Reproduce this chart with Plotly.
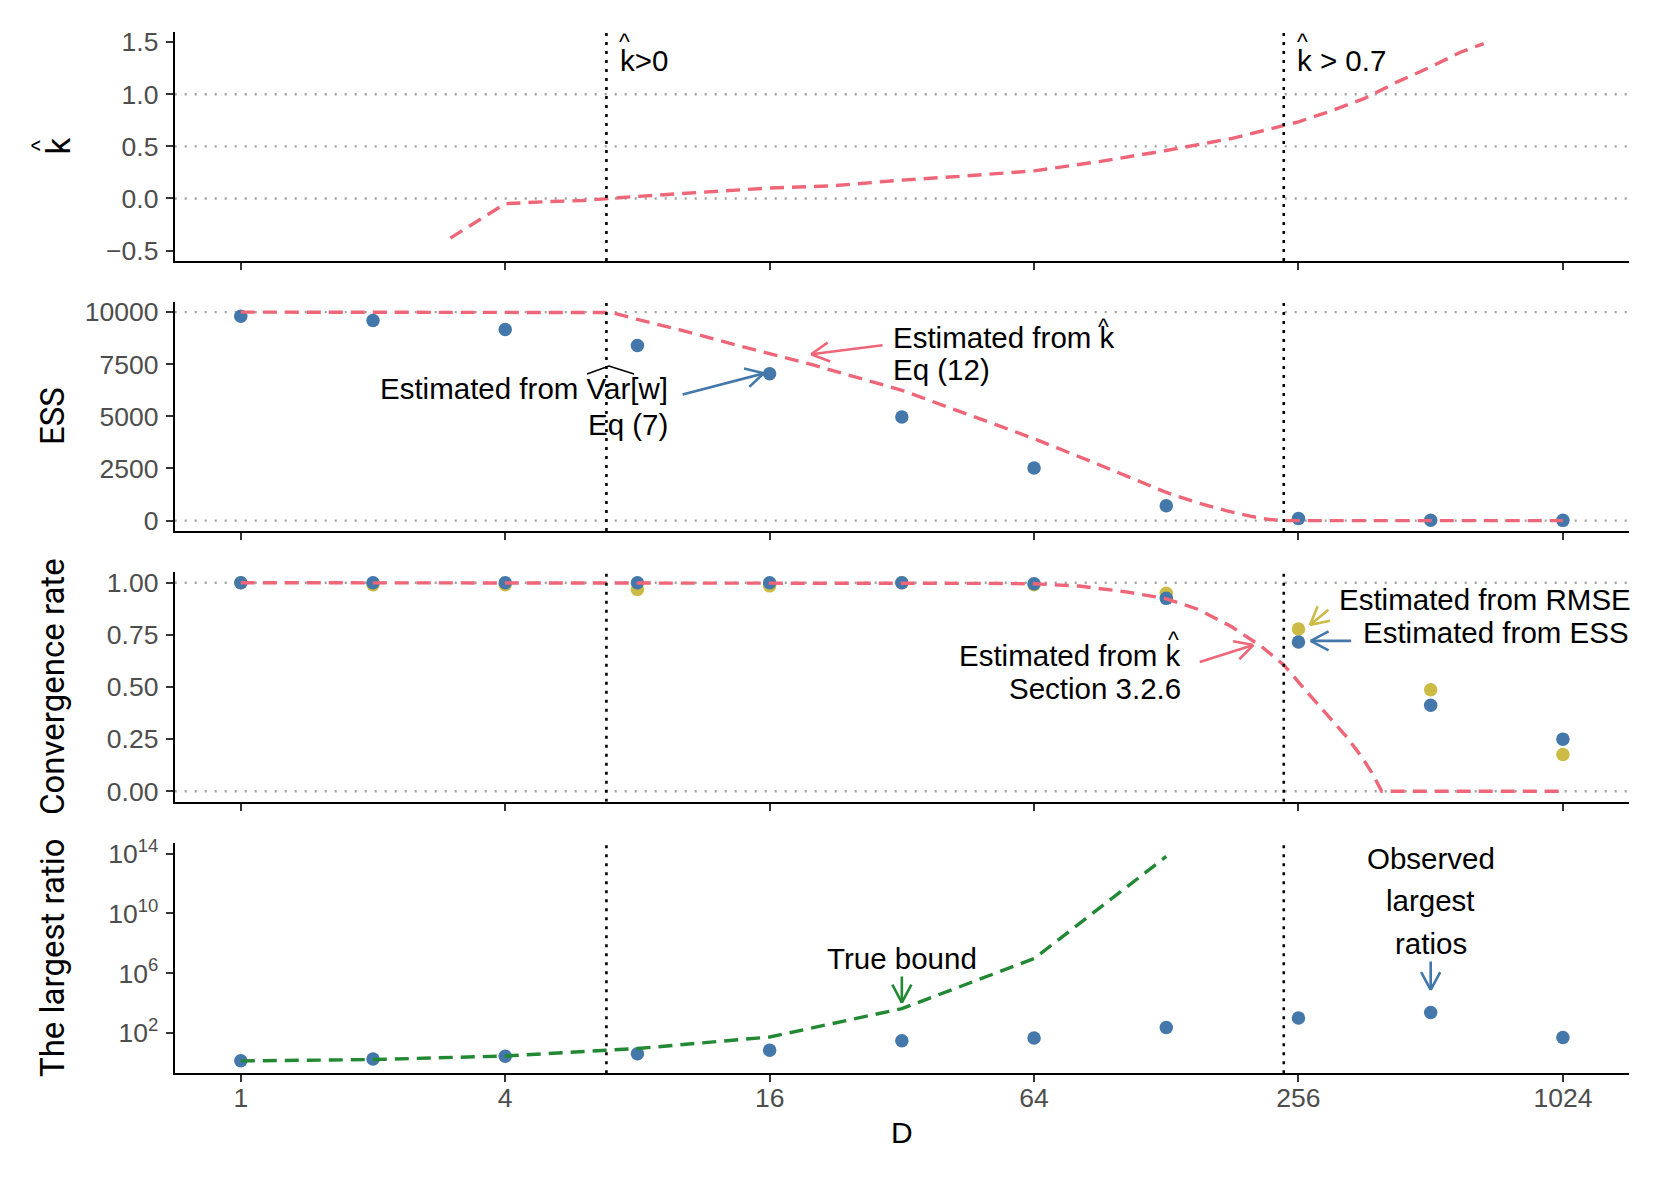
import numpy as np
import plotly.graph_objects as go

# ---------------- data ----------------
D = [1, 2, 4, 8, 16, 32, 64, 128, 256, 512, 1024]

khat_D = [3, 4, 5, 6, 8, 11, 16, 22, 32, 45, 64, 90, 128, 181, 256, 300, 362, 430, 512, 600, 676]
khat = [-0.38, -0.05, -0.03, -0.02, 0.02, 0.057, 0.10, 0.12, 0.176, 0.217, 0.265, 0.354,
        0.46, 0.577, 0.735, 0.832, 0.96, 1.119, 1.262, 1.405, 1.486]

ess_obs = [9800, 9600, 9170, 8400, 7040, 4965, 2520, 710, 95, 20, 10]
ess_khat_D = [1, 2, 4, 6, 7, 8, 10, 13, 16, 20, 32, 45, 64, 90, 128, 150, 175, 200, 220, 237, 256, 512, 1024]
ess_khat = [10000, 10000, 10000, 10000, 9980, 9650, 9150, 8500, 7990, 7480, 6250, 5100, 3930,
            2680, 1350, 870, 480, 200, 50, 0, 0, 0, 0]

conv_ess = [1.0, 1.0, 1.0, 1.0, 1.0, 1.0, 0.995, 0.925, 0.716, 0.412, 0.25]
conv_rmse = [1.0, 0.99, 0.99, 0.968, 0.985, 1.0, 0.99, 0.949, 0.778, 0.487, 0.176]
conv_khat_D = [1, 2, 4, 8, 16, 32, 48, 64, 81, 103, 127, 151, 180, 211, 237, 265, 304, 330, 356, 376, 396, 512, 1024]
conv_khat = [1.0, 1.0, 1.0, 1.0, 1.0, 1.0, 0.997, 0.995, 0.984, 0.957, 0.925, 0.873, 0.79,
             0.694, 0.606, 0.487, 0.343, 0.26, 0.167, 0.09, 0.0, 0.0, 0.0]

bound_D = [1, 2, 4, 8, 16, 32, 64, 128]
bound = [1.35, 1.66, 2.88, 9.1, 53.7, 4270, 9.55e6, 6.6e13]
ratio_obs = [1.4, 1.8, 2.8, 4.0, 7.1, 30, 46, 234, 1000, 2340, 50]

khat_threshold_D = [6.8, 237]   # khat > 0 and khat > 0.7

x_ticks = [1, 4, 16, 64, 256, 1024]
khat_ticks = [-0.5, 0.0, 0.5, 1.0, 1.5]
khat_ticktext = ["\u22120.5", "0.0", "0.5", "1.0", "1.5"]
ess_ticks = [0, 2500, 5000, 7500, 10000]
conv_ticks = [0.0, 0.25, 0.5, 0.75, 1.0]
conv_ticktext = ["0.00", "0.25", "0.50", "0.75", "1.00"]
ratio_ticks = [1e2, 1e6, 1e10, 1e14]
ratio_ticktext = ["10<sup>2</sup>", "10<sup>6</sup>", "10<sup>10</sup>", "10<sup>14</sup>"]

khat_hlines = [0.0, 0.5, 1.0]
ess_hlines = [0, 10000]
conv_hlines = [0.0, 1.0]

# ---------------- style / geometry ----------------
BLUE, YELLOW, RED, GREEN = "#4477AA", "#CCBB44", "#EE6677", "#228833"
FONT = "Liberation Sans"
TITLE_FONT = "Roboto"
W, H = 1661, 1183          # page size
OFF = 8                    # default body margin of the html page
WF, HF = W - 2 * OFF, H - 2 * OFF
XL, XR = 174.7, 1629.0     # page pixel positions of the panels
PANELS = [(31.7, 261.0), (301.7, 531.0), (572.3, 801.7), (843.3, 1073.3)]
L2RANGE = [-0.5, 10.5]
XRANGE = [np.log10(2 ** L2RANGE[0]), np.log10(2 ** L2RANGE[1])]
YRANGES = [[-0.6, 1.6], [-500, 10500], [-0.05, 1.05], [-0.7, 14.7]]
DASH = "14px,8px"
LW = 3.4
ANN = 29.5

def ax(i):
    return ("x" if i == 1 else f"x{i}"), ("y" if i == 1 else f"y{i}")

def px_x(d):
    return XL + (np.log2(d) - L2RANGE[0]) / (L2RANGE[1] - L2RANGE[0]) * (XR - XL)

def px_y(i, v):
    lo, hi = YRANGES[i - 1]
    top, bot = PANELS[i - 1]
    vv = np.log10(v) if i == 4 else v
    return top + (hi - vv) / (hi - lo) * (bot - top)

fig = go.Figure()

def add_line(i, x, y, color, dash, width=LW):
    xr, yr = ax(i)
    fig.add_trace(go.Scatter(x=x, y=y, mode="lines", xaxis=xr, yaxis=yr,
                             line=dict(color=color, width=width, dash=dash), hoverinfo="skip"))

def add_pts(i, x, y, color):
    xr, yr = ax(i)
    fig.add_trace(go.Scatter(x=x, y=y, mode="markers", xaxis=xr, yaxis=yr,
                             marker=dict(color=color, size=13.5, line=dict(width=0)), hoverinfo="skip"))

# horizontal reference lines (grey dotted)
for i, vals in [(1, khat_hlines), (2, ess_hlines), (3, conv_hlines)]:
    xr, yr = ax(i)
    for v in vals:
        fig.add_shape(type="line", xref=f"{xr} domain", yref=yr, x0=0, x1=1, y0=v, y1=v,
                      line=dict(color="#A0A0A0", width=2.4, dash="2px,8px"), layer="below")

add_line(1, khat_D, khat, RED, DASH)
add_pts(2, D, ess_obs, BLUE)
add_line(2, ess_khat_D, ess_khat, RED, DASH)
add_pts(3, D, conv_rmse, YELLOW)
add_pts(3, D, conv_ess, BLUE)
add_line(3, conv_khat_D, conv_khat, RED, DASH)
add_pts(4, D, ratio_obs, BLUE)
add_line(4, bound_D, bound, GREEN, DASH)

for i in range(1, 5):
    lo, hi = YRANGES[i - 1]
    if i == 4:
        lo, hi = 10 ** lo, 10 ** hi
    for dv in khat_threshold_D:
        add_line(i, [dv, dv], [lo, hi], "black", "3px,6px", width=2.6)

# ---------------- axes ----------------
layout = dict(template="none", width=WF, height=HF,
              margin=dict(l=0, r=0, t=0, b=0, pad=0, autoexpand=False),
              paper_bgcolor="white", plot_bgcolor="white", showlegend=False)
tick_font = dict(family=FONT, size=26.5, color="#4D4D4D")
ycfg = [
    dict(tickvals=khat_ticks, ticktext=khat_ticktext),
    dict(tickvals=ess_ticks, ticktext=[str(v) for v in ess_ticks]),
    dict(tickvals=conv_ticks, ticktext=conv_ticktext),
    dict(tickvals=ratio_ticks, ticktext=ratio_ticktext, type="log"),
]
for i in range(1, 5):
    top, bot = PANELS[i - 1]
    xr, yr = ax(i)
    xname = "xaxis" if i == 1 else f"xaxis{i}"
    yname = "yaxis" if i == 1 else f"yaxis{i}"
    layout[xname] = dict(domain=[(XL - OFF) / WF, (XR - OFF) / WF], type="log", range=XRANGE, anchor=yr,
                         tickvals=x_ticks, ticktext=[str(v) for v in x_ticks], automargin=False,
                         showticklabels=(i == 4), ticks="outside", ticklen=7, tickwidth=1.8,
                         tickcolor="#333333", showline=True, linecolor="black", linewidth=2,
                         showgrid=False, zeroline=False, tickfont=tick_font, ticklabelstandoff=-7)
    yc = dict(domain=[1 - (bot - OFF) / HF, 1 - (top - OFF) / HF], range=YRANGES[i - 1], anchor=xr,
              ticks="outside", ticklen=7, tickwidth=1.8, tickcolor="#333333", automargin=False,
              showline=True, linecolor="black", linewidth=2, showgrid=False, zeroline=False,
              tickfont=tick_font, ticklabelstandoff=2)
    yc.update(ycfg[i - 1])
    layout[yname] = yc
fig.update_layout(**layout)

# ---------------- annotations ----------------
anns = []

def txt(i, xd, yv, text, xanchor="left", size=ANN, yshift=0, xshift=0):
    xr, yr = ax(i)
    yy = np.log10(yv) if i == 4 else yv
    anns.append(dict(x=np.log10(xd), y=yy, xref=xr, yref=yr, text=text, showarrow=False,
                     xanchor=xanchor, yanchor="middle", yshift=yshift, xshift=xshift,
                     font=dict(family=FONT, size=size, color="black")))

def hat(i, xd, yv):
    txt(i, xd, yv, "^", xanchor="center", size=23, yshift=-4)

def arrow(i, head, tail, color, arm=22, ang=28):
    xr, yr = ax(i)
    f = (lambda v: np.log10(v)) if i == 4 else (lambda v: v)
    anns.append(dict(x=np.log10(head[0]), y=f(head[1]), ax=np.log10(tail[0]), ay=f(tail[1]),
                     xref=xr, yref=yr, axref=xr, ayref=yr, text="", showarrow=True,
                     arrowhead=0, arrowwidth=2.6, arrowcolor=color, standoff=0))
    dx = px_x(tail[0]) - px_x(head[0])
    dy = px_y(i, tail[1]) - px_y(i, head[1])
    n = np.hypot(dx, dy)
    ux, uy = dx / n, dy / n
    for s in (1, -1):
        a = np.radians(ang) * s
        vx = ux * np.cos(a) - uy * np.sin(a)
        vy = ux * np.sin(a) + uy * np.cos(a)
        anns.append(dict(x=np.log10(head[0]), y=f(head[1]), xref=xr, yref=yr,
                         ax=arm * vx, ay=arm * vy, text="", showarrow=True,
                         arrowhead=0, arrowwidth=2.6, arrowcolor=color, standoff=0))

# panel 1
txt(1, 7.24, 1.328, "k>0")
hat(1, 7.47, 1.537)
txt(1, 251.8, 1.328, "k &gt; 0.7")
hat(1, 261, 1.537)
# panel 2
txt(2, 9.47, 6346, "Estimated from Var[w]", xanchor="right")
txt(2, 9.47, 4623, "Eq (7)", xanchor="right")
txt(2, 30.3, 8759, "Estimated from k")
hat(2, 92.2, 9454)
txt(2, 30.3, 7262, "Eq (12)")
arrow(2, (15.53, 7065), (10.06, 6024), BLUE)
arrow(2, (19.89, 7977), (29.16, 8423), RED)
# panel 3
txt(3, 313.9, 0.919, "Estimated from RMSE")
txt(3, 355.4, 0.759, "Estimated from ESS")
txt(3, 140, 0.651, "Estimated from k", xanchor="right")
hat(3, 132.8, 0.746)
txt(3, 140, 0.494, "Section 3.2.6", xanchor="right")
arrow(3, (202, 0.701), (151.4, 0.618), RED)
arrow(3, (271.9, 0.797), (301.9, 0.877), YELLOW)
arrow(3, (272.9, 0.721), (340.1, 0.721), BLUE)
# panel 4
txt(4, 32, 10 ** 7.01, "True bound", xanchor="center")
arrow(4, (32, 10 ** 4.03), (32, 10 ** 5.88), GREEN)
txt(4, 512, 10 ** 13.71, "Observed", xanchor="center")
txt(4, 512, 10 ** 10.9, "largest", xanchor="center")
txt(4, 512, 10 ** 8.0, "ratios", xanchor="center")
arrow(4, (512, 10 ** 4.88), (512, 10 ** 6.89), BLUE)

# axis titles (page pixel positions)
def ptxt(xpx, ypx, text, size, angle=0, family=TITLE_FONT):
    anns.append(dict(x=(xpx - OFF) / WF, y=1 - (ypx - OFF) / HF, xref="paper", yref="paper", text=text,
                     showarrow=False, xanchor="center", yanchor="middle", textangle=angle,
                     font=dict(family=family, size=size, color="black")))

ptxt(58, 146.5, "k", 33, -90)
ptxt(40, 146, "^", 23, -90, family=FONT)
ptxt(52, 416, "ESS", 33, -90)
ptxt(52, 687, "Convergence rate", 33, -90)
ptxt(52, 958, "The largest ratio", 33, -90)
ptxt(902, 1132.5, "D", 30, 0, family=FONT)

def pp(xpx, ypx):
    return f"{(xpx - OFF) / WF},{1 - (ypx - OFF) / HF}"

fig.add_shape(type="path", xref="paper", yref="paper",
              path=f"M {pp(587, 374)} L {pp(609, 366)} L {pp(634, 374)}",
              line=dict(color="black", width=1.6))

fig.update_layout(annotations=anns)
fig.write_html("out.html")
